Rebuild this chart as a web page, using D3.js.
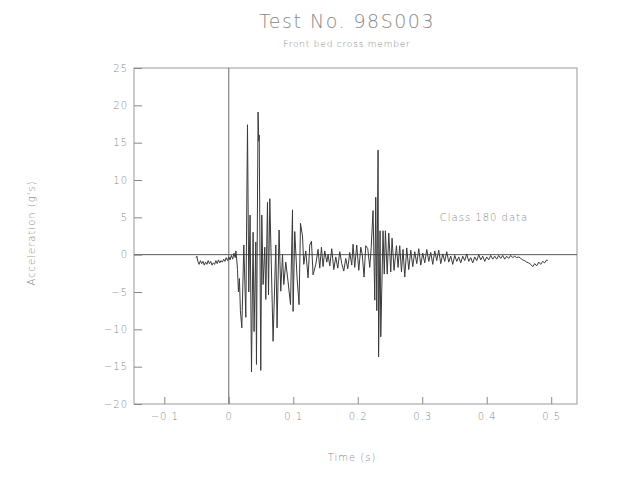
<!DOCTYPE html>
<html>
<head>
<meta charset="utf-8">
<script src="https://cdn.jsdelivr.net/npm/d3@7"></script>
<style>
  html, body { margin: 0; padding: 0; background: #fff; }
  svg { display: block; }
  text { font-family: "DejaVu Sans", sans-serif; font-weight: 200; fill: #888; }
</style>
</head>
<body>
<svg id="chart" width="623" height="484"></svg>
<script>
const titleText = "Test No. 98S003";
const subtitleText = "Front bed cross member";
const xTitle = "Time (s)";
const yTitle = "Acceleration (g's)";
const noteText = "Class 180 data";

const xTicks = [-0.1, 0, 0.1, 0.2, 0.3, 0.4, 0.5];
const xTickLabels = ["\u22120.1", "0", "0.1", "0.2", "0.3", "0.4", "0.5"];
const yTicks = [-20, -15, -10, -5, 0, 5, 10, 15, 20, 25];
const yTickLabels = ["\u221220", "\u221215", "\u221210", "\u22125", "0", "5", "10", "15", "20", "25"];

const timeS = [
 -0.051,-0.0495,-0.048,-0.046,-0.044,-0.042,-0.040,-0.038,-0.036,-0.034,
 -0.032,-0.030,-0.028,-0.026,-0.024,-0.022,-0.020,-0.018,-0.016,-0.014,
 -0.012,-0.010,-0.008,-0.006,-0.004,-0.002,0.000,0.002,0.004,0.006,
 0.008,0.010,0.011,0.012,0.0135,0.0150,0.0165,0.0180,0.0202,0.0233,
 0.0264,0.0290,0.0310,0.0330,0.0352,0.0377,0.0392,0.0419,0.0429,0.0454,
 0.0465,0.0472,0.0496,0.0512,0.0532,0.0558,0.0574,0.0600,0.0616,0.0636,
 0.0687,0.0729,0.0749,0.0780,0.0806,0.0833,0.0853,0.0884,0.0919,0.0957,
 0.0988,0.0997,0.1023,0.1059,0.1090,0.1112,0.1143,0.1163,0.1194,0.1229,
 0.1256,0.1282,0.1307,0.1349,0.1384,0.1411,0.1437,0.1462,0.1488,0.1520,
 0.1540,0.1566,0.1597,0.1628,0.1659,0.1690,0.1721,0.1752,0.1783,0.1814,
 0.1845,0.1876,0.1907,0.1927,0.1953,0.1984,0.2016,0.2047,0.2070,0.2098,
 0.2124,0.2155,0.2186,0.2209,0.2237,0.2264,0.2279,0.2295,0.2315,0.2323,
 0.2346,0.2357,0.2392,0.2411,0.2429,0.2457,0.2481,0.2512,0.2532,0.2563,
 0.2600,0.2625,0.2651,0.2678,0.2702,0.2729,0.2760,0.2791,0.2822,0.2853,
 0.2884,0.2915,0.2946,0.2977,0.3008,0.3039,0.3070,0.3101,0.3132,0.3163,
 0.3194,0.3225,0.3256,0.3287,0.3318,0.3349,0.3380,0.3411,0.3442,0.3473,
 0.3504,0.3535,0.3566,0.3597,0.3628,0.3659,0.3690,0.3721,0.3752,0.3783,
 0.3814,0.3845,0.3876,0.3907,0.3938,0.3969,0.4000,0.4031,0.4062,0.4093,
 0.4124,0.4155,0.4186,0.4217,0.4248,0.4279,0.4310,0.4341,0.4372,0.4403,
 0.4434,0.4465,0.4496,0.4527,0.4558,0.4589,0.4620,0.4651,0.4682,0.4713,
 0.4744,0.4775,0.4806,0.4837,0.4868,0.4899,0.4930,0.4946
];
const accelG = [
 -0.4,-0.2,-0.9,-1.3,-0.8,-1.2,-0.9,-1.4,-1.0,-1.3,
 -0.8,-1.2,-0.9,-1.4,-1.1,-1.3,-0.8,-1.2,-0.7,-1.1,
 -0.8,-1.0,-0.6,-0.9,-0.4,-0.8,-0.3,-0.7,-0.1,-0.6,
 0.2,-0.4,0.5,-0.3,-2.0,-5.0,-3.2,-7.5,-9.8,1.3,
 -8.4,17.4,-5.0,5.3,-15.7,3.0,-10.3,1.7,-14.7,19.1,
 15.2,16.0,-15.5,5.3,-4.0,1.0,-6.0,7.0,-5.4,7.5,
 -11.6,1.3,-9.8,3.3,-4.9,0.0,-4.0,-1.0,-3.6,-6.7,
 6.0,-7.6,3.1,-3.1,-6.7,4.2,2.5,-1.3,0.5,-3.1,
 1.3,1.8,-2.7,-1.3,0.7,-1.8,1.0,-1.6,0.5,-1.0,
 0.0,-1.5,0.8,-2.0,-0.3,-1.8,0.4,-1.2,-2.2,-0.5,
 -1.9,0.3,-1.4,1.4,-1.7,1.3,-2.1,1.0,0.0,-3.0,
 1.2,0.8,-1.7,1.0,5.9,-6.1,7.7,-7.5,14.0,-13.7,
 3.2,-11.0,3.2,-2.6,3.2,-2.6,2.9,-2.3,2.2,-2.1,
 1.2,-1.7,1.2,-2.3,0.7,-3.0,0.9,-2.0,0.6,-1.6,
 0.4,-1.2,0.8,-1.4,0.2,-1.1,0.7,-0.9,0.3,-1.3,
 0.5,-0.8,0.6,-1.2,0.1,-0.9,0.4,-1.0,-0.2,-1.3,
 -0.1,-0.9,-0.3,-1.1,-0.2,-0.8,0.1,-0.9,-0.4,-1.1,
 -0.3,-0.8,0.0,-0.7,-0.2,-0.9,-0.3,-0.7,-0.1,-0.6,
 -0.2,-0.6,-0.1,-0.5,-0.1,-0.6,-0.2,-0.5,-0.1,-0.4,
 -0.2,-0.4,-0.3,-0.5,-0.7,-0.8,-1.0,-1.1,-1.3,-1.6,
 -1.2,-1.5,-1.0,-1.3,-0.9,-1.1,-0.7,-0.8
];

const svg = d3.select("#chart");
const m = { left: 134, right: 577, top: 68, bottom: 404 };

const x = d3.scaleLinear().domain([-0.147, 0.54]).range([m.left, m.right]);
const y = d3.scaleLinear().domain([-20, 25]).range([m.bottom, m.top]);

// Frame
svg.append("rect")
  .attr("x", m.left).attr("y", m.top)
  .attr("width", m.right - m.left).attr("height", m.bottom - m.top)
  .attr("fill", "none").attr("stroke", "#999").attr("stroke-width", 1);

// Zero lines
svg.append("line")
  .attr("x1", m.left).attr("x2", m.right)
  .attr("y1", y(0)).attr("y2", y(0))
  .attr("stroke", "#555").attr("stroke-width", 1);
svg.append("line")
  .attr("x1", x(0)).attr("x2", x(0))
  .attr("y1", m.top).attr("y2", m.bottom)
  .attr("stroke", "#666").attr("stroke-width", 1);

// Axes
const yAxis = d3.axisLeft(y)
  .tickValues(yTicks)
  .tickFormat((d, i) => yTickLabels[i])
  .tickSizeInner(-8).tickSizeOuter(0).tickPadding(6);
const gy = svg.append("g").attr("transform", `translate(${m.left},0)`).call(yAxis);
gy.select(".domain").remove();
gy.selectAll(".tick line").attr("stroke", "#888");
gy.selectAll(".tick text")
  .style("font-family", "'DejaVu Sans', sans-serif")
  .style("font-weight", "200")
  .style("font-size", "10px").style("letter-spacing", "1px").attr("fill", "#999");

const xAxis = d3.axisBottom(x)
  .tickValues(xTicks)
  .tickFormat((d, i) => xTickLabels[i])
  .tickSizeInner(-7).tickSizeOuter(0).tickPadding(9);
const gx = svg.append("g").attr("transform", `translate(0,${m.bottom})`).call(xAxis);
gx.select(".domain").remove();
gx.selectAll(".tick line").attr("stroke", "#888");
gx.selectAll(".tick text")
  .style("font-family", "'DejaVu Sans', sans-serif")
  .style("font-weight", "200")
  .style("font-size", "10px").style("letter-spacing", "1px").attr("fill", "#999");

// Signal
const pts = timeS.map((t, i) => [t, accelG[i]]);
const line = d3.line().x(d => x(d[0])).y(d => y(d[1]));
svg.append("path")
  .datum(pts)
  .attr("d", line)
  .attr("fill", "none")
  .attr("stroke", "#3a3a3a")
  .attr("stroke-width", 1)
  .attr("stroke-linejoin", "miter");

// Titles
svg.append("text")
  .attr("x", 347).attr("y", 28)
  .attr("text-anchor", "middle")
  .style("font-size", "19px").style("letter-spacing", "1.5px")
  .attr("fill", "#999")
  .text(titleText);
svg.append("text")
  .attr("x", 347).attr("y", 47)
  .attr("text-anchor", "middle")
  .style("font-size", "9px").style("letter-spacing", "0.8px")
  .attr("fill", "#888")
  .text(subtitleText);

svg.append("text")
  .attr("x", 352).attr("y", 461)
  .attr("text-anchor", "middle")
  .style("font-size", "10px").style("letter-spacing", "1px")
  .attr("fill", "#999")
  .text(xTitle);

svg.append("text")
  .attr("transform", `translate(35,233) rotate(-90)`)
  .attr("text-anchor", "middle")
  .style("font-size", "10px").style("letter-spacing", "1px")
  .attr("fill", "#999")
  .text(yTitle);

svg.append("text")
  .attr("x", 484).attr("y", 221)
  .attr("text-anchor", "middle")
  .style("font-size", "10px").style("letter-spacing", "1px")
  .attr("fill", "#999")
  .text(noteText);
</script>
</body>
</html>
